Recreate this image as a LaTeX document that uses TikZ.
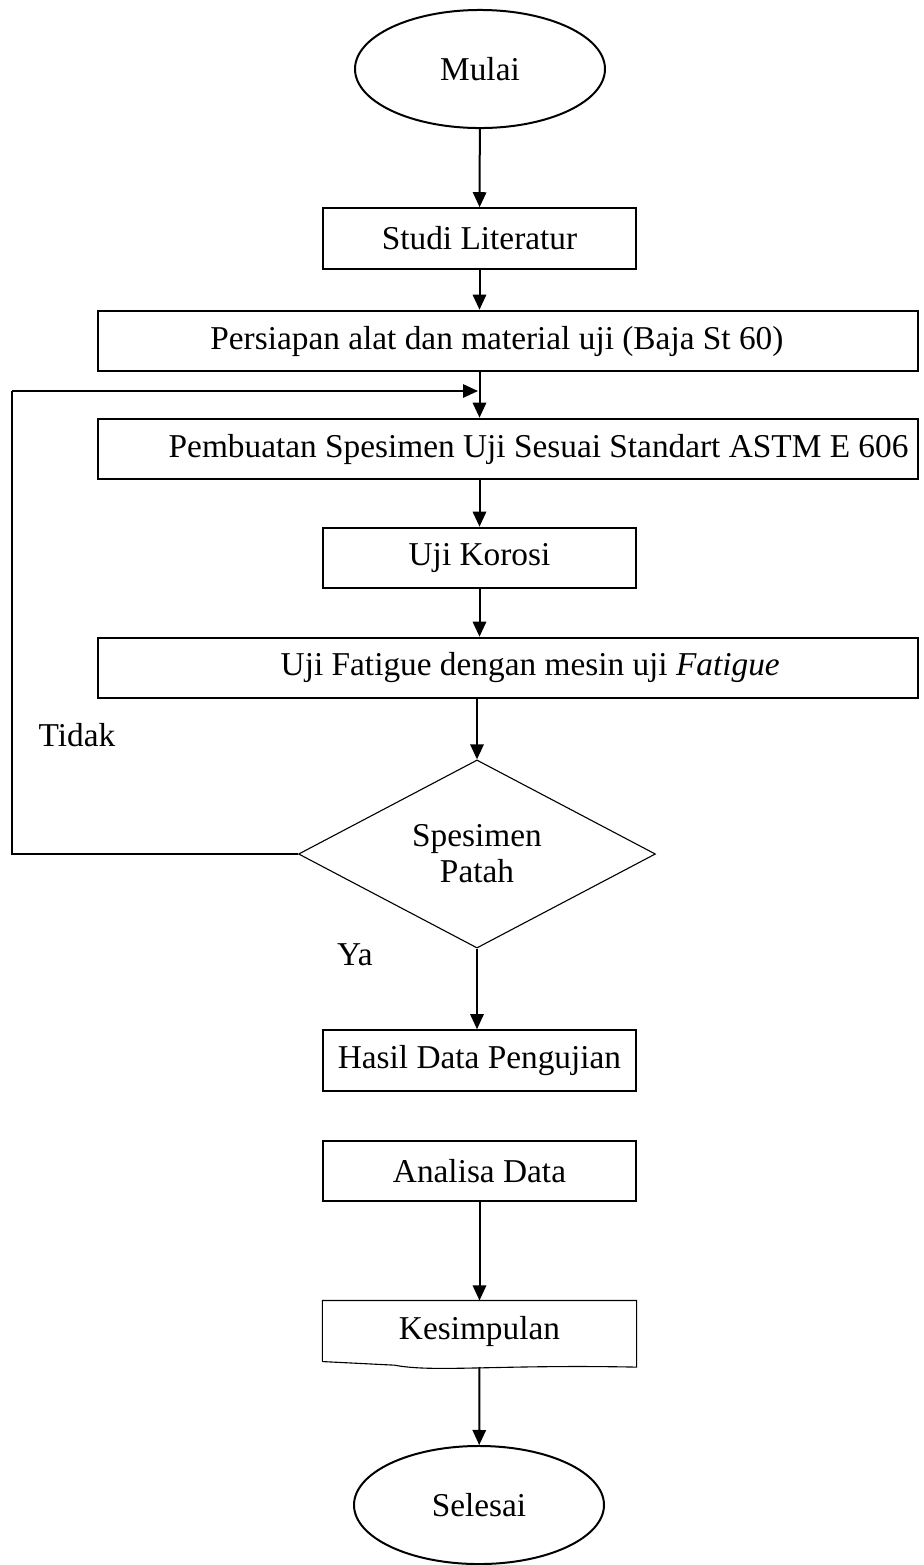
\documentclass[tikz,border=0pt]{standalone}
\usepackage{fontspec}
\setmainfont{Liberation Serif}
\usetikzlibrary{shapes.geometric,arrows.meta}

\tikzset{
  box/.style={draw,line width=0.72pt,inner sep=0pt,minimum height=21.8pt},
  widebox/.style={box,minimum width=295.2pt},
  smallbox/.style={box,minimum width=112.7pt},
  terminal/.style={draw,ellipse,line width=0.72pt,inner sep=0pt,minimum width=90pt,minimum height=42.5pt},
  decision/.style={draw,diamond,line width=0.4pt,inner sep=0pt,minimum width=128.5pt,minimum height=64pt,align=center},
  arr/.style={line width=0.72pt,-{Triangle[length=5.4pt,width=4.8pt]}},
  flow/.style={line width=0.72pt}
}

\begin{document}
\begin{tikzpicture}[x=0.36pt,y=-0.36pt,font=\fontsize{12pt}{13pt}\selectfont]
  \useasboundingbox (0,0) rectangle (924,1565);

  \node[terminal] (mulai) at (480,69) {Mulai};
  \node[smallbox] (studi) at (479.5,238.5) {Studi Literatur};
  \node[widebox] (persiapan) at (508,341) {};
  \node (tpersiapan) at ([xshift=-4pt]persiapan.center) {Persiapan alat dan material uji (Baja St 60)};
  \node[widebox] (pembuatan) at (508,449) {};
  \node (tpembuatan) at ([xshift=11pt]pembuatan.center) {Pembuatan Spesimen Uji Sesuai Standart ASTM E 606};
  \node[smallbox] (korosi) at (479.5,558) {Uji Korosi};
  \node[widebox] (fatigue) at (508,668) {};
  \node (tfatigue) at ([xshift=8pt]fatigue.center) {Uji Fatigue dengan mesin uji \textit{Fatigue}};
  \node[decision] (patah) at (477,854) {Spesimen\\Patah};
  \node[smallbox] (hasil) at (479.5,1060.5) {Hasil Data Pengujian};
  \node[smallbox] (analisa) at (479.5,1171) {Analisa Data};
  \node[inner sep=0pt,minimum width=112.7pt,minimum height=21.6pt] (kesimpulan) at (479.5,1331) {Kesimpulan};
  \node[terminal] (selesai) at (479,1505) {Selesai};

  % dokumen
  \draw[line width=0.4pt] (kesimpulan.south west) -- (kesimpulan.north west)
    -- (kesimpulan.north east) -- ([yshift=-2pt]kesimpulan.south east)
    .. controls ([xshift=-50pt,yshift=-1pt]kesimpulan.south east) and ([xshift=40pt,yshift=-4pt]kesimpulan.south west)
    .. ([xshift=26pt,yshift=-1.3pt]kesimpulan.south west)
    .. controls ([xshift=12pt,yshift=-0.6pt]kesimpulan.south west) .. (kesimpulan.south west);
  \coordinate (kesbawah) at (479.5,1367);

  \node (tidak) at (77,735) {Tidak};
  \node (ya) at (355,955) {Ya};

  \draw[arr] (mulai) -- (studi);
  \draw[arr] (studi) -- (studi.south |- persiapan.north);
  \draw[arr] (studi.south |- persiapan.south) -- (studi.south |- pembuatan.north);
  \draw[arr] (korosi.north |- pembuatan.south) -- (korosi);
  \draw[arr] (korosi) -- (korosi.south |- fatigue.north);
  \draw[arr] (patah.north |- fatigue.south) -- (patah);
  \draw[arr] (patah.south) -- (patah.south |- hasil.north);
  \draw[arr] (analisa) -- (kesimpulan.north);
  \draw[arr] (kesbawah) -- (selesai);

  % kembali
  \coordinate (balik) at (478,391);
  \draw[flow] (patah.west) -- (12,854) -- (12,391) coordinate (kiri);
  \draw[arr] (kiri) -- (balik);
\end{tikzpicture}
\end{document}
